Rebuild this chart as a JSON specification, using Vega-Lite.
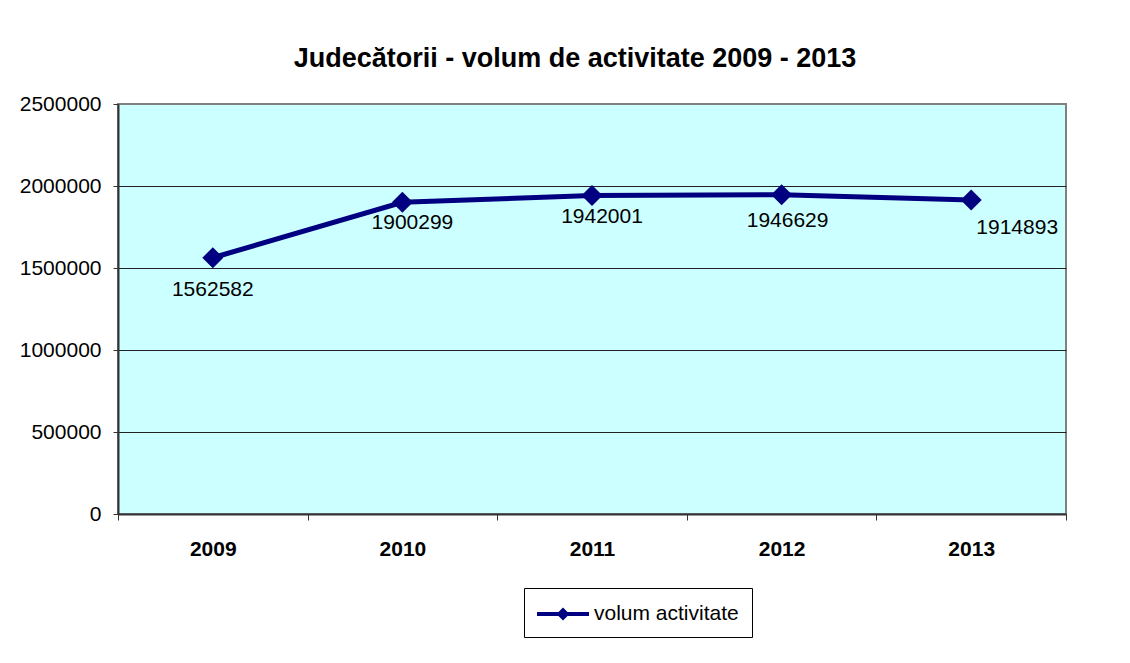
{
  "$schema": "https://vega.github.io/schema/vega-lite/v6.json",
  "width": 948,
  "height": 410,
  "autosize": {"type": "none"},
  "padding": {"left": 118, "top": 104, "right": 64, "bottom": 149},
  "background": "#ffffff",
  "title": {
    "text": "Judecătorii - volum de activitate 2009 - 2013",
    "font": "Liberation Sans",
    "fontSize": 27,
    "fontWeight": "bold",
    "color": "#000000",
    "anchor": "middle",
    "dx": -17,
    "offset": 20
  },
  "config": {
    "font": "Liberation Sans",
    "view": {"fill": "#CCFFFF", "stroke": "#808080", "strokeWidth": 2},
    "axis": {"labelFont": "Liberation Sans", "labelColor": "#000000"}
  },
  "data": {
    "values": [
      {"year": "2009", "value": 1562582, "series": "volum activitate"},
      {"year": "2010", "value": 1900299, "series": "volum activitate"},
      {"year": "2011", "value": 1942001, "series": "volum activitate"},
      {"year": "2012", "value": 1946629, "series": "volum activitate"},
      {"year": "2013", "value": 1914893, "series": "volum activitate"}
    ]
  },
  "encoding": {
    "x": {
      "field": "year",
      "type": "ordinal",
      "scale": {"paddingInner": 0, "paddingOuter": 0},
      "axis": {
        "title": null,
        "labelAngle": 0,
        "labelFontSize": 21,
        "labelFontWeight": "bold",
        "labelPadding": 18,
        "tickBand": "extent",
        "tickSize": 6,
        "tickColor": "#333333",
        "domainColor": "#333333",
        "domainWidth": 2,
        "grid": false
      }
    },
    "y": {
      "field": "value",
      "type": "quantitative",
      "scale": {"domain": [0, 2500000], "nice": false},
      "axis": {
        "title": null,
        "values": [0, 500000, 1000000, 1500000, 2000000, 2500000],
        "format": "d",
        "labelFontSize": 21,
        "labelPadding": 12,
        "tickSize": 5,
        "tickColor": "#333333",
        "domainColor": "#333333",
        "domainWidth": 2,
        "grid": true,
        "gridColor": {"condition": {"test": "datum.value >= 2500000", "value": "#808080"}, "value": "#222222"},
        "gridWidth": 1
      }
    }
  },
  "layer": [
    {
      "mark": {"type": "line", "color": "#000080", "strokeWidth": 5}
    },
    {
      "mark": {"type": "point", "shape": "diamond", "filled": true, "size": 441, "opacity": 1},
      "encoding": {
        "color": {
          "field": "series",
          "type": "nominal",
          "scale": {"range": ["#000080"]},
          "legend": {
            "title": null,
            "orient": "none",
            "legendX": 406,
            "legendY": 484,
            "strokeColor": "#000000",
            "fillColor": "#ffffff",
            "padding": 13,
            "symbolType": "M-2,-0.15H2V0.15H-2Z M0,-0.5L0.5,0L0,0.5L-0.5,0Z",
            "symbolSize": 676,
            "symbolStrokeWidth": 0,
            "symbolOffset": 13,
            "labelOffset": 18,
            "labelFontSize": 21,
            "labelFont": "Liberation Sans",
            "labelColor": "#000000"
          }
        }
      }
    },
    {
      "transform": [{"filter": "datum.year == '2009'"}],
      "mark": {"type": "text", "fontSize": 21, "font": "Liberation Sans", "color": "#000000", "dy": 32, "dx": 0},
      "encoding": {"text": {"field": "value", "type": "quantitative", "format": "d"}}
    },
    {
      "transform": [{"filter": "datum.year == '2010' || datum.year == '2011'"}],
      "mark": {"type": "text", "fontSize": 21, "font": "Liberation Sans", "color": "#000000", "dy": 21, "dx": 10},
      "encoding": {"text": {"field": "value", "type": "quantitative", "format": "d"}}
    },
    {
      "transform": [{"filter": "datum.year == '2012'"}],
      "mark": {"type": "text", "fontSize": 21, "font": "Liberation Sans", "color": "#000000", "dy": 26, "dx": 6},
      "encoding": {"text": {"field": "value", "type": "quantitative", "format": "d"}}
    },
    {
      "transform": [{"filter": "datum.year == '2013'"}],
      "mark": {"type": "text", "fontSize": 21, "font": "Liberation Sans", "color": "#000000", "dy": 28, "dx": 46},
      "encoding": {"text": {"field": "value", "type": "quantitative", "format": "d"}}
    }
  ]
}
